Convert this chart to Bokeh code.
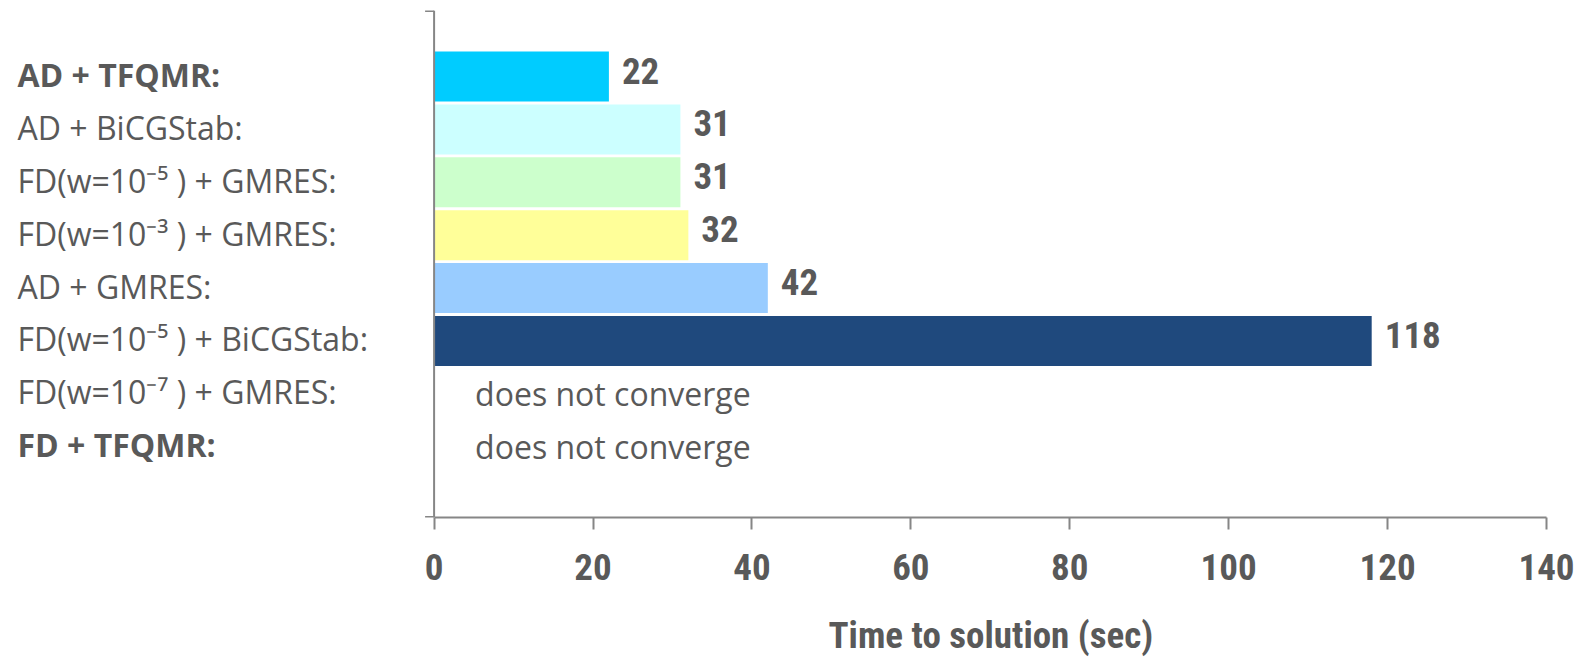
from bokeh.plotting import figure
from bokeh.models import ColumnDataSource, LabelSet, FixedTicker, Range1d, Span, Title
from bokeh.core.properties import value
from bokeh.embed import file_html
from bokeh.resources import INLINE

# ---- data ----
methods = [
    "AD + TFQMR:",
    "AD + BiCGStab:",
    "FD(w=10\u207b\u2075 ) + GMRES:",
    "FD(w=10\u207b\u00b3 ) + GMRES:",
    "AD + GMRES:",
    "FD(w=10\u207b\u2075 ) + BiCGStab:",
    "FD(w=10\u207b\u2077 ) + GMRES:",
    "FD + TFQMR:",
]
times = [22, 31, 31, 32, 42, 118, None, None]
label_styles = ["bold", "normal", "normal", "normal", "normal", "normal", "normal", "bold"]
bar_colors = ["#00CCFF", "#CCFFFF", "#CCFFCC", "#FFFF99", "#99CCFF", "#1F497D", None, None]
no_conv_text = "does not converge"
x_ticks = [0, 20, 40, 60, 80, 100, 120, 140]
x_title = "Time to solution (sec)"

TXT = "#595959"
AX = "#868686"
NARROW = "Roboto Condensed, DejaVu Sans Condensed, Liberation Sans Narrow, Liberation Sans"

X_MAX = 140
PX_PER_UNIT = 7.944
X_MIN = -433.5 / PX_PER_UNIT   # room for the category labels on the left
Y_TOP, Y_BOTTOM = -1.25, 8.34

rows = list(range(len(methods)))

lab_src = ColumnDataSource(dict(
    row=rows, left=[X_MIN] * len(rows), method=methods, style=label_styles))

bar_idx = [i for i, t in enumerate(times) if t is not None]
bar_src = ColumnDataSource(dict(
    row=[rows[i] for i in bar_idx],
    time=[times[i] for i in bar_idx],
    time_str=[str(times[i]) for i in bar_idx],
    color=[bar_colors[i] for i in bar_idx],
))

nc_idx = [i for i, t in enumerate(times) if t is None]
nc_src = ColumnDataSource(dict(
    row=[rows[i] for i in nc_idx], zero=[0] * len(nc_idx),
    text=[no_conv_text] * len(nc_idx)))

p = figure(width=1581, height=659, output_backend="svg", toolbar_location=None,
           x_range=Range1d(X_MIN, X_MAX), y_range=Range1d(Y_BOTTOM, Y_TOP),
           y_axis_location=None,
           min_border_left=0, min_border_right=35, min_border_top=10,
           min_border_bottom=138)
p.outline_line_color = None
p.xgrid.visible = False
p.ygrid.visible = False
p.background_fill_color = "white"
p.border_fill_color = "white"

p.hbar(y="row", left=0, right="time", height=0.945, fill_color="color",
       line_color=None, source=bar_src)

# value axis line (vertical) at x = 0 with small end ticks
p.add_layout(Span(location=0, dimension="height", line_color=AX, line_width=2))
p.segment(x0=[-9 / PX_PER_UNIT, -9 / PX_PER_UNIT], x1=[0, 0],
          y0=[Y_TOP + 0.01, Y_BOTTOM - 0.01], y1=[Y_TOP + 0.01, Y_BOTTOM - 0.01],
          line_color=AX, line_width=2)

# x axis
xa = p.xaxis[0]
xa.bounds = (0, X_MAX)
xa.ticker = FixedTicker(ticks=x_ticks)
xa.minor_tick_line_color = None
xa.major_tick_out = 12
xa.major_tick_in = 0
xa.axis_line_color = AX
xa.axis_line_width = 2
xa.major_tick_line_color = AX
xa.major_tick_line_width = 2
xa.major_label_text_font = NARROW
xa.major_label_text_font_style = "bold"
xa.major_label_text_font_size = "37px"
xa.major_label_text_color = TXT
xa.major_label_standoff = 24
# invisible spacer label to push the title further down
xa.axis_label = " "
xa.axis_label_text_font_size = "1px"
xa.axis_label_standoff = 22

# axis title, centred under the 0..140 part of the axis
p.add_layout(Title(text=x_title, align="left", offset=828, standoff=6,
                   vertical_align="bottom",
                   text_font=NARROW, text_font_style="bold",
                   text_font_size="37px", text_color=TXT), "below")

p.add_layout(LabelSet(x="left", y="row", text="method", source=lab_src,
                      x_offset=17, y_offset=2, text_align="left",
                      text_baseline="middle",
                      text_font=value("Open Sans"), text_font_size="32px",
                      text_font_style="style", text_color=TXT))

p.add_layout(LabelSet(x="time", y="row", text="time_str", source=bar_src,
                      x_offset=13, y_offset=6, text_align="left",
                      text_baseline="middle", text_font=value(NARROW),
                      text_font_size="37px", text_font_style="bold",
                      text_color=TXT))

p.add_layout(LabelSet(x="zero", y="row", text="text", source=nc_src,
                      x_offset=41, text_align="left", text_baseline="middle",
                      text_font=value("Open Sans"), text_font_size="32px",
                      text_color=TXT))

open("out.html", "w").write(file_html(p, INLINE))
